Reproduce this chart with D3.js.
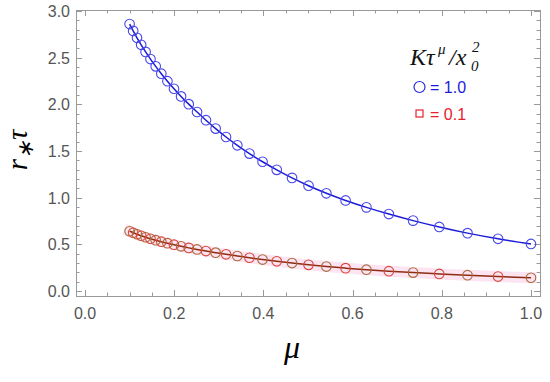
<!DOCTYPE html>
<html>
<head>
<meta charset="utf-8">
<script src="https://cdn.jsdelivr.net/npm/d3@7"></script>
<style>
  body { margin: 0; background: #fff; }
  svg { display: block; }
</style>
</head>
<body>
<script>
// mu grid
const mu = [0.1000, 0.1080, 0.1166, 0.1259, 0.1359, 0.1468, 0.1585, 0.1711, 0.1848, 0.1995,
            0.2154, 0.2326, 0.2512, 0.2712, 0.2929, 0.3162, 0.3415, 0.3687, 0.3981, 0.4299,
            0.4642, 0.5012, 0.5412, 0.5843, 0.6310, 0.6813, 0.7356, 0.7943, 0.8577, 0.9261, 1.0000];
// K tau^mu / x0^2 = 1.0
const rBlue = [2.860, 2.787, 2.713, 2.638, 2.562, 2.485, 2.407, 2.328, 2.248, 2.167,
               2.085, 2.002, 1.918, 1.830, 1.740, 1.650, 1.561, 1.472, 1.385, 1.298,
               1.212, 1.128, 1.047, 0.970, 0.896, 0.824, 0.754, 0.686, 0.620, 0.559, 0.504];
// K tau^mu / x0^2 = 0.1
const rRed = [0.640, 0.624, 0.608, 0.592, 0.576, 0.560, 0.544, 0.528, 0.512, 0.496,
              0.479, 0.462, 0.445, 0.428, 0.411, 0.393, 0.375, 0.356, 0.337, 0.318,
              0.299, 0.280, 0.262, 0.245, 0.228, 0.212, 0.197, 0.183, 0.169, 0.155, 0.142];
const xTicks = [0, 0.2, 0.4, 0.6, 0.8, 1.0];
const yTicks = [0, 0.5, 1.0, 1.5, 2.0, 2.5, 3.0];

const W = 550, H = 382;
const frame = {left: 76, right: 540, top: 10, bottom: 296};

const x = d3.scaleLinear().domain([-0.0202, 1.0202]).range([frame.left, frame.right]);
const y = d3.scaleLinear().domain([-0.0536, 3.0107]).range([frame.bottom, frame.top]);

const svg = d3.select("body").append("svg")
  .attr("width", W).attr("height", H)
  .style("font-family", "'Liberation Sans', Arial, sans-serif");

const frameCol = "#999";
const serif = "'Liberation Serif', 'Times New Roman', serif";

// ticks (inside, on all four sides)
function tickRange(a, b, s) {
  const out = [];
  for (let v = a; v <= b + 1e-9; v += s) out.push(+v.toFixed(4));
  return out;
}
const xMinor = tickRange(0, 1, 0.05);
const yMinor = tickRange(0, 3, 0.1);
const isMajor = (v, s) => Math.abs(v / s - Math.round(v / s)) < 1e-6;

const tg = svg.append("g").attr("stroke", frameCol).attr("stroke-width", 1);
xMinor.forEach(v => {
  const len = isMajor(v, 0.2) ? 6 : 3.5;
  const px = Math.round(x(v)) + 0.5;
  tg.append("line").attr("x1", px).attr("x2", px).attr("y1", frame.bottom).attr("y2", frame.bottom - len);
  tg.append("line").attr("x1", px).attr("x2", px).attr("y1", frame.top).attr("y2", frame.top + len);
});
yMinor.forEach(v => {
  const len = isMajor(v, 0.5) ? 6 : 3.5;
  const py = Math.round(y(v)) + 0.5;
  tg.append("line").attr("y1", py).attr("y2", py).attr("x1", frame.left).attr("x2", frame.left + len);
  tg.append("line").attr("y1", py).attr("y2", py).attr("x1", frame.right).attr("x2", frame.right - len);
});

svg.append("rect")
  .attr("x", frame.left + 0.5).attr("y", frame.top + 0.5)
  .attr("width", frame.right - frame.left).attr("height", frame.bottom - frame.top)
  .attr("fill", "none").attr("stroke", frameCol).attr("stroke-width", 1);

// tick labels
svg.append("g").selectAll("text").data(xTicks).join("text")
  .attr("x", d => x(d)).attr("y", 319)
  .attr("text-anchor", "middle")
  .attr("font-size", 16).attr("fill", "#555")
  .text(d => d.toFixed(1));
svg.append("g").selectAll("text").data(yTicks).join("text")
  .attr("x", 70).attr("y", d => y(d) + 6)
  .attr("text-anchor", "end")
  .attr("font-size", 16).attr("fill", "#555")
  .text(d => d.toFixed(1));

// axis labels
svg.append("text")
  .attr("x", 292).attr("y", 358)
  .attr("text-anchor", "middle")
  .style("font-family", serif)
  .style("font-style", "italic").attr("font-size", 32)
  .text("μ");
const yl = svg.append("text")
  .attr("transform", "translate(27,150) rotate(-90)")
  .attr("text-anchor", "middle")
  .style("font-family", serif)
  .style("font-style", "italic").attr("font-size", 29);
yl.append("tspan").text("r");
yl.append("tspan").attr("font-size", 22).attr("dy", 6).text("∗");
yl.append("tspan").attr("dy", -6).attr("dx", 1).text("τ");

// data
const blueData = mu.map((m, i) => [m, rBlue[i]]);
const redData = mu.map((m, i) => [m, rRed[i]]);
const line = d3.line().x(d => x(d[0])).y(d => y(d[1])).curve(d3.curveMonotoneX);

const plot = svg.append("g");

// pink band behind the red series
plot.append("path")
  .datum(redData)
  .attr("fill", "none")
  .attr("stroke", "#fde4f2")
  .attr("stroke-width", 11)
  .attr("stroke-linecap", "square")
  .attr("d", line);

plot.append("path")
  .datum(blueData)
  .attr("fill", "none").attr("stroke", "#1c1cd8").attr("stroke-width", 1.5)
  .attr("d", line);
plot.append("path")
  .datum(redData)
  .attr("fill", "none").attr("stroke", "#8e2c12").attr("stroke-width", 1.5)
  .attr("d", line);

plot.append("g").selectAll("circle").data(blueData).join("circle")
  .attr("cx", d => x(d[0])).attr("cy", d => y(d[1])).attr("r", 4.8)
  .attr("fill", "none").attr("stroke", "#4646ea").attr("stroke-width", 1.1);
plot.append("g").selectAll("circle").data(redData).join("circle")
  .attr("cx", d => x(d[0])).attr("cy", d => y(d[1])).attr("r", 4.8)
  .attr("fill", "none")
  .attr("stroke", (d, i) => i % 2 ? "#d8483a" : "#a86a3a")
  .attr("stroke-width", 1.1);

// legend
const lg = svg.append("g")
  .style("font-family", serif).style("font-style", "italic").attr("fill", "#111");
lg.append("text").attr("x", 410).attr("y", 65).attr("font-size", 24).text("Kτ");
lg.append("text").attr("x", 438).attr("y", 54).attr("font-size", 15).text("μ");
lg.append("text").attr("x", 449).attr("y", 65).attr("font-size", 24).text("/x");
lg.append("text").attr("x", 471).attr("y", 71).attr("font-size", 15).text("0");
lg.append("text").attr("x", 472).attr("y", 52).attr("font-size", 15).text("2");

const lk = svg.append("g");
lk.append("circle").attr("cx", 419.5).attr("cy", 87).attr("r", 5.5)
  .attr("fill", "none").attr("stroke", "#2626e0").attr("stroke-width", 1.2);
lk.append("text").attr("x", 430).attr("y", 93)
  .attr("font-size", 16).attr("fill", "#1c1cd8").text("= 1.0");
lk.append("rect").attr("x", 416).attr("y", 110).attr("width", 7).attr("height", 7)
  .attr("fill", "none").attr("stroke", "#e8202a").attr("stroke-width", 1.2);
lk.append("text").attr("x", 430).attr("y", 120)
  .attr("font-size", 16).attr("fill", "#e8202a").text("= 0.1");
</script>
</body>
</html>
